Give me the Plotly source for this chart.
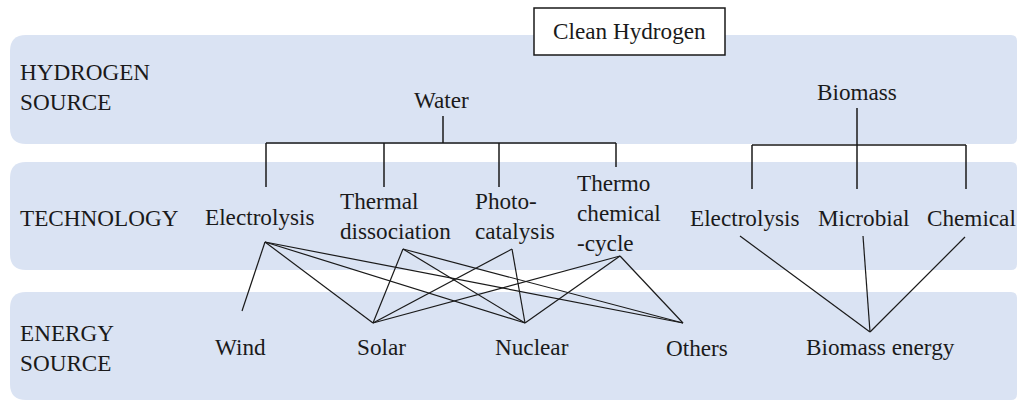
import plotly.graph_objects as go

# ---------------- data ----------------
title_text = "Clean Hydrogen"
row_labels = ["HYDROGEN<br>SOURCE", "TECHNOLOGY", "ENERGY<br>SOURCE"]
hydrogen_sources = ["Water", "Biomass"]
technologies = ["Electrolysis", "Thermal<br>dissociation", "Photo-<br>catalysis",
                "Thermo<br>chemical<br>-cycle", "Electrolysis", "Microbial", "Chemical"]
tech_source = [0, 0, 0, 0, 1, 1, 1]          # which hydrogen source feeds each technology
energy_sources = ["Wind", "Solar", "Nuclear", "Others", "Biomass energy"]
# (technology index, energy source index)
links = [(0, 0), (0, 1), (0, 2), (0, 3),
         (1, 1), (1, 2), (1, 3),
         (2, 1), (2, 2),
         (3, 1), (3, 2), (3, 3),
         (4, 4), (5, 4), (6, 4)]

# ---------------- layout geometry ----------------
W, H = 1018, 401
FONT = "Liberation Serif"
FS = 23.2
INK = "#1a1a1a"
BAND = "#dae3f3"

bands = [(35, 144), (162, 270), (292, 400)]
row_label_y = [87, 218, 348]

src_text = [(412, 100), (815, 92)]            # left x, center y
src_stem_top = [116, 108]
src_bar_y = [143, 145]
src_stem_x = [443, 857]

tech_text = [(203, 217), (338, 216), (473, 216), (575, 213), (688, 218), (816, 218), (925, 218)]
tech_drop_x = [266, 384, 499, 616, 752, 857, 966]
tech_drop_end = [187, 187, 187, 167, 189, 189, 189]
tech_anchor = [(265, 242), (403, 249), (512, 249), (620, 256), (740, 236), (863, 236), (965, 237)]

energy_text = [(213, 347), (355, 347), (493, 347), (664, 348), (804, 347)]
energy_anchor = [(242, 311), (373, 323), (525, 323), (683, 323), (870, 332)]

fig = go.Figure()

shapes = []
def rounded(x0, y0, x1, y1, rl=16, rr=6):
    return (f"M {x0+rl},{y0} L {x1-rr},{y0} Q {x1},{y0} {x1},{y0+rr} "
            f"L {x1},{y1-rr} Q {x1},{y1} {x1-rr},{y1} L {x0+rl},{y1} "
            f"Q {x0},{y1} {x0},{y1-rl} L {x0},{y0+rl} Q {x0},{y0} {x0+rl},{y0} Z")

for (y0, y1) in bands:
    shapes.append(dict(type="path", path=rounded(10, y0, 1017, y1), xref="x", yref="y",
                       fillcolor=BAND, line=dict(width=0), layer="below"))

# title box
shapes.append(dict(type="rect", x0=534, y0=8, x1=725, y1=55, xref="x", yref="y",
                   fillcolor="white", line=dict(color=INK, width=1.5), layer="above"))

fig.update_layout(shapes=shapes)

# tree lines (source -> technologies)
tx, ty = [], []
for s in range(len(hydrogen_sources)):
    idx = [i for i, v in enumerate(tech_source) if v == s]
    xs = [tech_drop_x[i] for i in idx]
    tx += [src_stem_x[s], src_stem_x[s], None]
    ty += [src_stem_top[s], src_bar_y[s], None]
    tx += [min(xs), max(xs), None]
    ty += [src_bar_y[s], src_bar_y[s], None]
    for i in idx:
        tx += [tech_drop_x[i], tech_drop_x[i], None]
        ty += [src_bar_y[s], tech_drop_end[i], None]
fig.add_trace(go.Scatter(x=tx, y=ty, mode="lines", line=dict(color=INK, width=1.5),
                         hoverinfo="skip", showlegend=False))

# links technology -> energy source
lx, ly = [], []
for t, e in links:
    lx += [tech_anchor[t][0], energy_anchor[e][0], None]
    ly += [tech_anchor[t][1], energy_anchor[e][1], None]
fig.add_trace(go.Scatter(x=lx, y=ly, mode="lines", line=dict(color=INK, width=1.2),
                         hoverinfo="skip", showlegend=False))

ann = []
def txt(x, y, s, anchor="left"):
    ann.append(dict(x=x, y=y, text=s, showarrow=False, xref="x", yref="y",
                    xanchor=anchor, yanchor="middle", align="left",
                    font=dict(family=FONT, size=FS, color=INK)))

for lab, y in zip(row_labels, row_label_y):
    txt(18, y, lab)
for s, (x, y) in zip(hydrogen_sources, src_text):
    txt(x, y, s)
for s, (x, y) in zip(technologies, tech_text):
    txt(x, y, s)
for s, (x, y) in zip(energy_sources, energy_text):
    txt(x, y, s)
txt(629.5, 31, title_text, anchor="center")

fig.update_layout(
    annotations=ann,
    width=W, height=H,
    margin=dict(l=0, r=0, t=0, b=0),
    paper_bgcolor="white", plot_bgcolor="white",
    font=dict(family=FONT),
    xaxis=dict(range=[0, W], visible=False, fixedrange=True),
    yaxis=dict(range=[H, 0], visible=False, fixedrange=True),
)

fig.write_html("out.html", config={"displayModeBar": False},
               post_script="document.body.style.margin='0';document.body.style.overflow='hidden';")
